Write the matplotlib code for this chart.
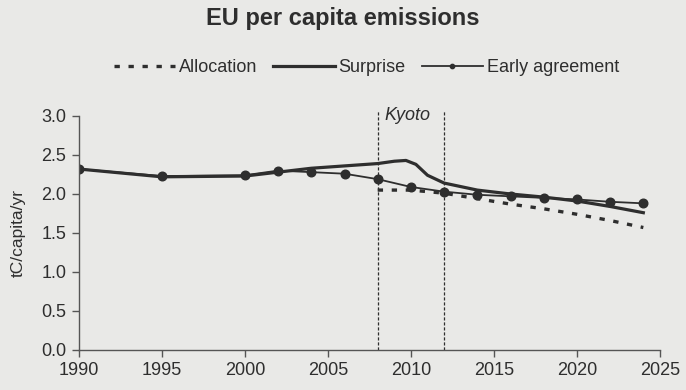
import matplotlib
matplotlib.use("Agg")
import matplotlib.pyplot as plt

plt.rcParams['font.family'] = ['Liberation Sans', 'DejaVu Sans']

# Early agreement scenario (marked points)
early_years = [1990, 1995, 2000, 2002, 2004, 2006, 2008, 2010, 2012, 2014,
               2016, 2018, 2020, 2022, 2024]
early_vals = [2.32, 2.23, 2.24, 2.30, 2.28, 2.26, 2.19, 2.09, 2.03, 1.99,
              1.97, 1.95, 1.93, 1.90, 1.88]

# Surprise scenario
surprise_years = [1990, 1995, 2000, 2002, 2004, 2006, 2008, 2009, 2009.7, 2010.3,
                  2011, 2012, 2014, 2016, 2018, 2020, 2022, 2024]
surprise_vals = [2.32, 2.22, 2.23, 2.28, 2.33, 2.36, 2.39, 2.42, 2.43, 2.38,
                 2.24, 2.14, 2.05, 2.00, 1.96, 1.91, 1.84, 1.76]

# Allocation path from 2008
alloc_years = [2008, 2010, 2012, 2014, 2016, 2018, 2020, 2022, 2024]
alloc_vals = [2.05, 2.05, 2.01, 1.94, 1.87, 1.81, 1.74, 1.66, 1.57]

kyoto_years = [2008, 2012]
x_ticks = [1990, 1995, 2000, 2005, 2010, 2015, 2020, 2025]
y_ticks = [0.0, 0.5, 1.0, 1.5, 2.0, 2.5, 3.0]

bg = '#e9e9e7'
ink = '#2e2e2e'

fig = plt.figure(figsize=(6.86, 3.90), dpi=100, facecolor=bg)
ax = fig.add_axes([0.115, 0.1026, 0.847, 0.600])
ax.set_facecolor(bg)

ax.plot(alloc_years, alloc_vals, color=ink, lw=2.4, linestyle=(0, (1.6, 2.6)),
        label='Allocation')
ax.plot(surprise_years, surprise_vals, color=ink, lw=2.3, label='Surprise')
ax.plot(early_years, early_vals, color=ink, lw=1.3, marker='o', markersize=6.2,
        label='Early agreement')

for ky in kyoto_years:
    ax.plot([ky, ky], [0, 3.08], color=ink, lw=0.9, linestyle=(0, (2.5, 1.5)),
            clip_on=False)
ax.text(2008.4, 3.0, 'Kyoto', fontstyle='italic', fontsize=13, color=ink,
        ha='left', va='center')

ax.set_xlim(1990, 2025)
ax.set_ylim(0, 3.0)
ax.set_xticks(x_ticks)
ax.set_yticks(y_ticks)
ax.set_yticklabels([f'{v:.1f}' for v in y_ticks])
ax.tick_params(axis='both', direction='out', length=5, width=1, color='#555555',
               labelsize=13, labelcolor=ink, pad=4)
for side in ['top', 'right']:
    ax.spines[side].set_visible(False)
for side in ['left', 'bottom']:
    ax.spines[side].set_color('#555555')
    ax.spines[side].set_linewidth(1)

ax.set_ylabel('tC/capita/yr', fontsize=12.5, color=ink, labelpad=11)

fig.text(0.5, 0.953, 'EU per capita emissions', ha='center', va='center',
         fontsize=17, fontweight='bold', color=ink)

handles, labels = ax.get_legend_handles_labels()
leg = fig.legend(handles, labels, loc='center', bbox_to_anchor=(0.534, 0.826),
                 ncol=3, frameon=False, fontsize=13, handlelength=3.4,
                 columnspacing=0.9, handletextpad=0.2, markerscale=0.5)
for t in leg.get_texts():
    t.set_color(ink)

fig.savefig('out.png', dpi=100, facecolor=bg)
